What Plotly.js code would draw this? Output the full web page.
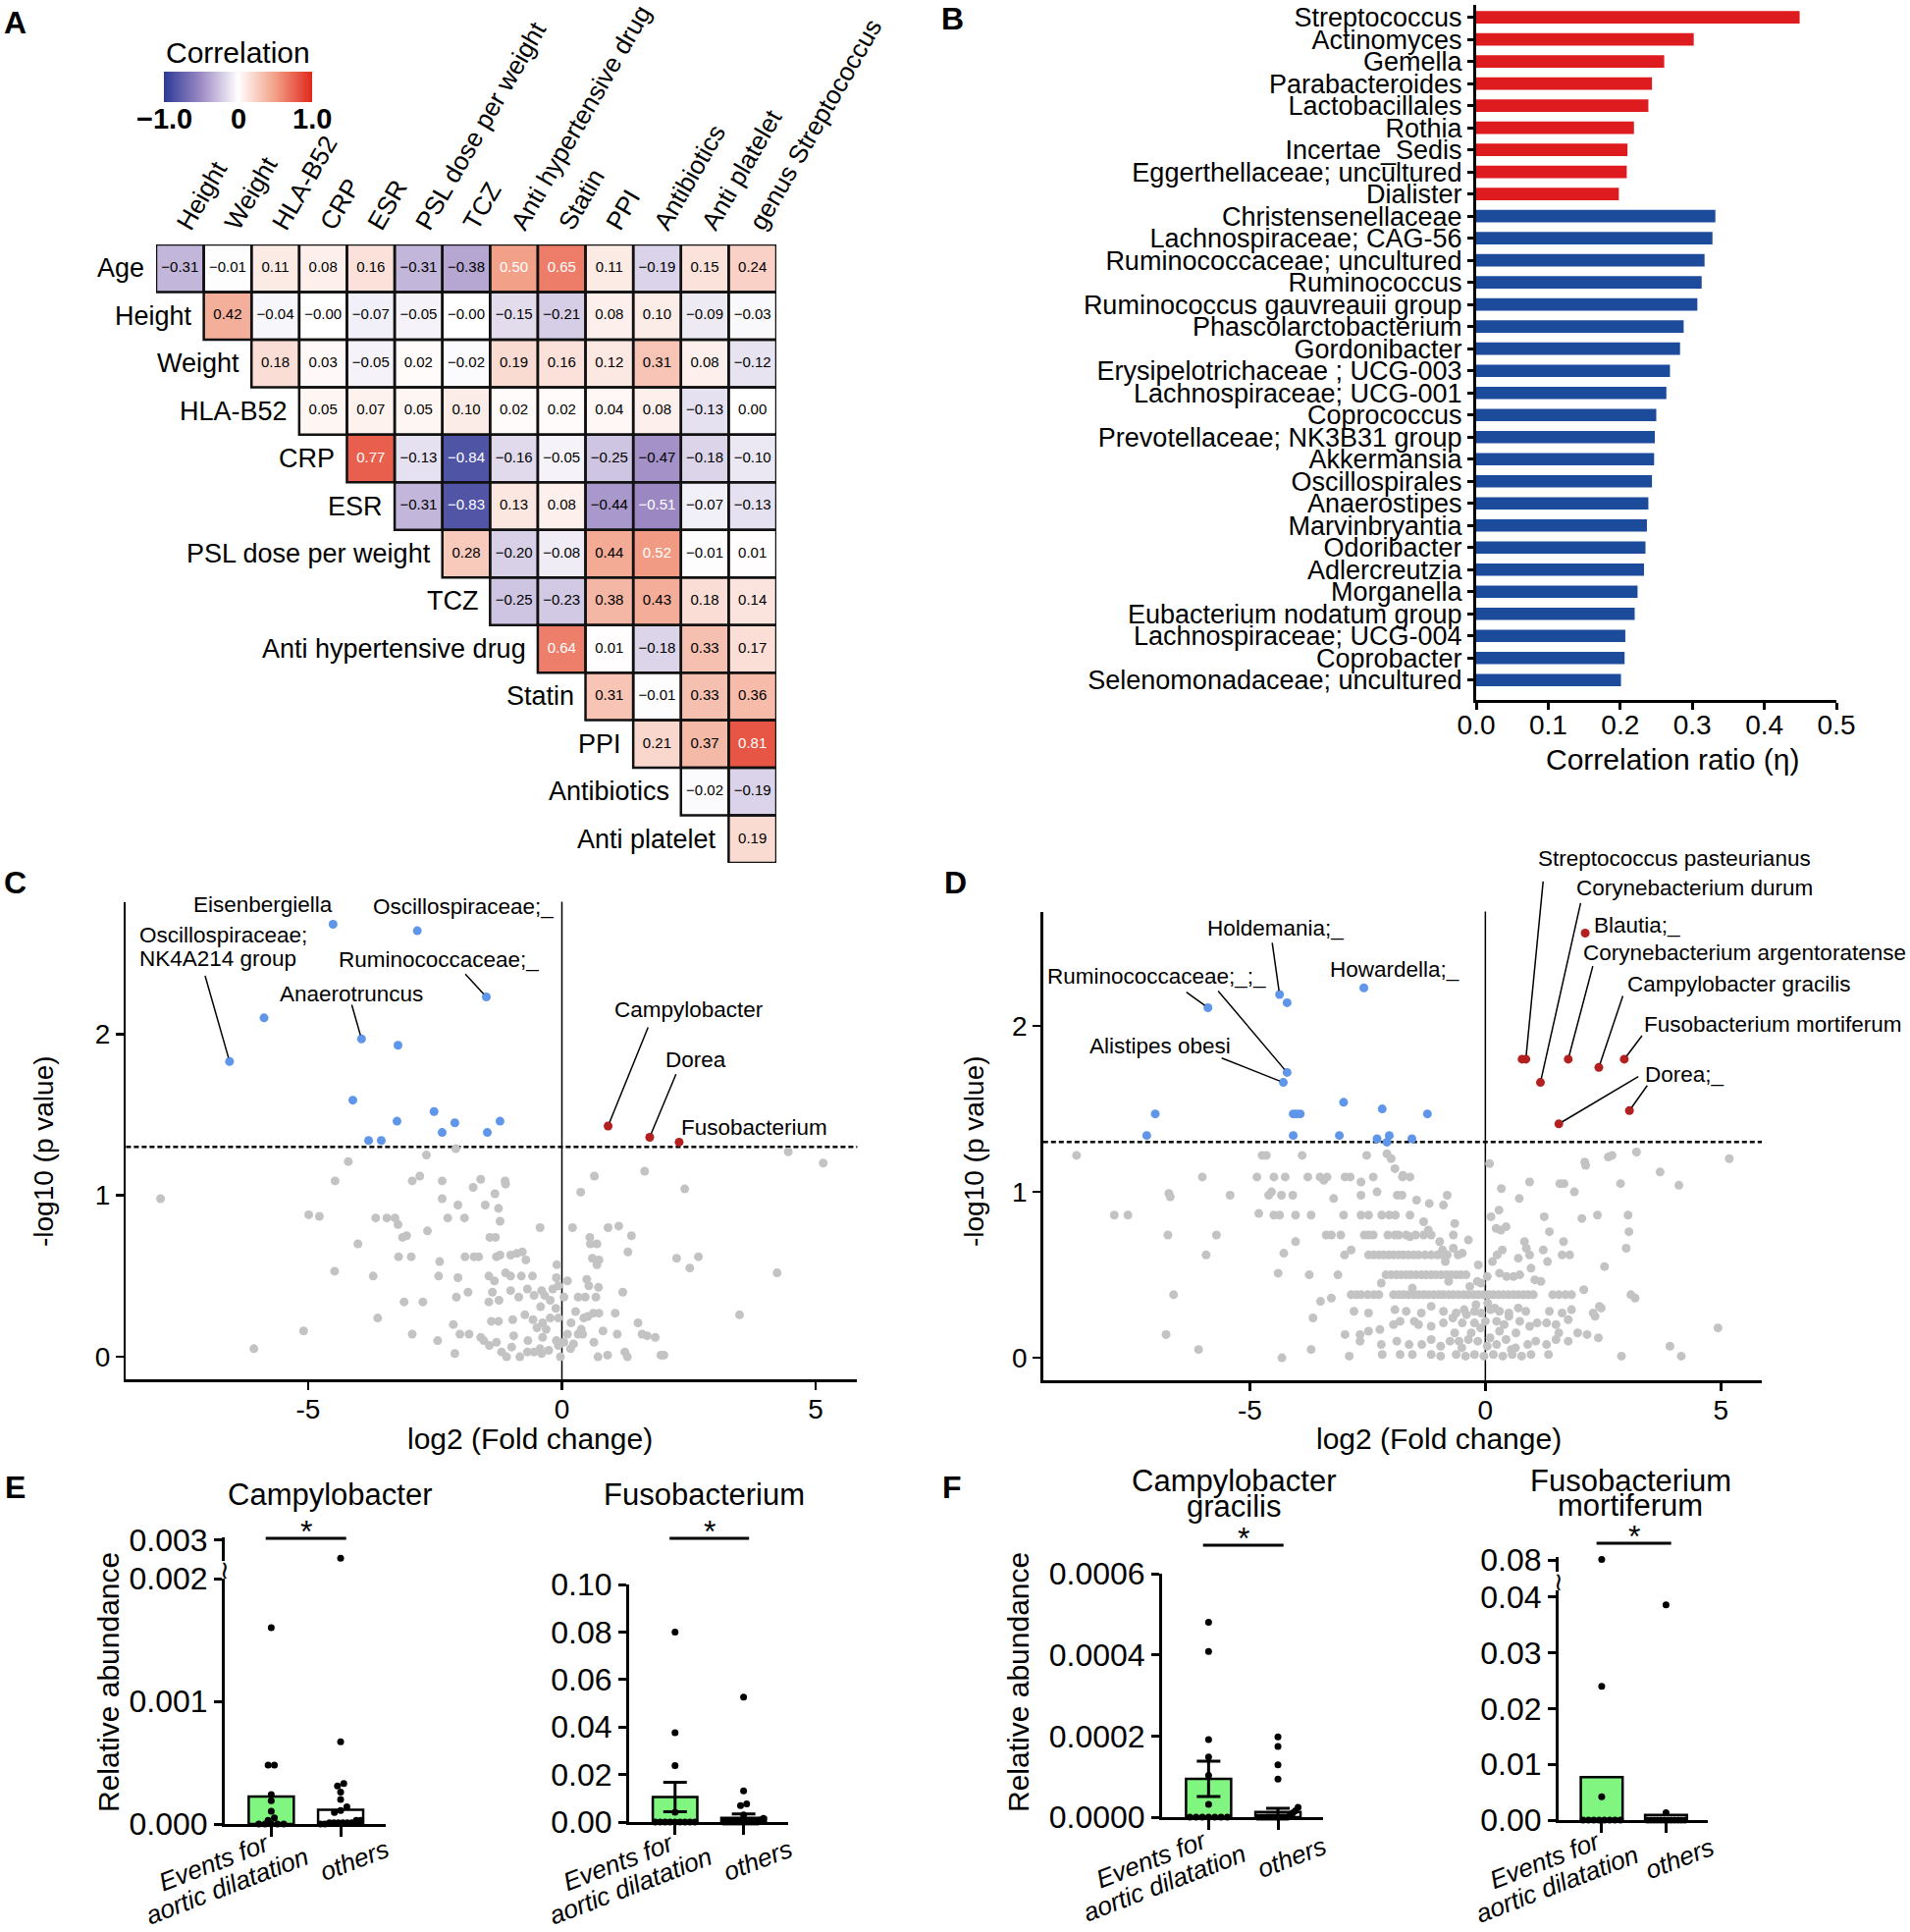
<!DOCTYPE html>
<html><head><meta charset="utf-8">
<script src="https://cdn.plot.ly/plotly-3.0.1.min.js"></script>
<style>html,body{margin:0;padding:0;background:#fff}</style>
</head><body>
<div id="chart" style="width:1946px;height:1968px"></div>
<script>
// ===================== DATA =====================
// Panel A: correlation matrix (upper triangle, row i starts at column i)
const heatRows = ['Age','Height','Weight','HLA-B52','CRP','ESR','PSL dose per weight','TCZ','Anti hypertensive drug','Statin','PPI','Antibiotics','Anti platelet'];
const heatCols = ['Height','Weight','HLA-B52','CRP','ESR','PSL dose per weight','TCZ','Anti hypertensive drug','Statin','PPI','Antibiotics','Anti platelet','genus Streptococcus'];
const corrAge = [-0.31,-0.01,0.11,0.08,0.16,-0.31,-0.38,0.50,0.65,0.11,-0.19,0.15,0.24];
const corrHeight = [0.42,-0.04,-0,-0.07,-0.05,-0,-0.15,-0.21,0.08,0.10,-0.09,-0.03];
const corrWeight = [0.18,0.03,-0.05,0.02,-0.02,0.19,0.16,0.12,0.31,0.08,-0.12];
const corrHLA = [0.05,0.07,0.05,0.10,0.02,0.02,0.04,0.08,-0.13,0.00];
const corrCRP = [0.77,-0.13,-0.84,-0.16,-0.05,-0.25,-0.47,-0.18,-0.10];
const corrESR = [-0.31,-0.83,0.13,0.08,-0.44,-0.51,-0.07,-0.13];
const corrPSL = [0.28,-0.20,-0.08,0.44,0.52,-0.01,0.01];
const corrTCZ = [-0.25,-0.23,0.38,0.43,0.18,0.14];
const corrAntiHT = [0.64,0.01,-0.18,0.33,0.17];
const corrStatin = [0.31,-0.01,0.33,0.36];
const corrPPI = [0.21,0.37,0.81];
const corrAntibiotics = [-0.02,-0.19];
const corrAntiPlatelet = [0.19];
const corrScaleTicks = [-1, 0, 1];
const corrScaleText = ['\u22121.0', '0', '1.0'];

// Panel B: correlation ratio
const bTaxa = ['Streptococcus','Actinomyces','Gemella','Parabacteroides','Lactobacillales','Rothia','Incertae_Sedis','Eggerthellaceae; uncultured','Dialister','Christensenellaceae','Lachnospiraceae; CAG-56','Ruminococcaceae; uncultured','Ruminococcus','Ruminococcus gauvreauii group','Phascolarctobacterium','Gordonibacter','Erysipelotrichaceae ; UCG-003','Lachnospiraceae; UCG-001','Coprococcus','Prevotellaceae; NK3B31 group','Akkermansia','Oscillospirales','Anaerostipes','Marvinbryantia','Odoribacter','Adlercreutzia','Morganella','Eubacterium nodatum group','Lachnospiraceae; UCG-004','Coprobacter','Selenomonadaceae; uncultured'];
const bEta = [0.449,0.302,0.261,0.244,0.239,0.219,0.210,0.209,0.198,0.332,0.328,0.317,0.313,0.307,0.288,0.283,0.269,0.264,0.250,0.248,0.247,0.244,0.239,0.237,0.235,0.233,0.224,0.220,0.207,0.206,0.201];
const bGroup = ['up','up','up','up','up','up','up','up','up','down','down','down','down','down','down','down','down','down','down','down','down','down','down','down','down','down','down','down','down','down','down'];

// Panel C: volcano [log2FC, -log10 p]
const cBlue = [[-4.51,2.68],[-2.85,2.64],[-1.49,2.23],[-5.87,2.10],[-3.95,1.97],[-3.23,1.93],[-6.55,1.83],[-4.12,1.59],[-2.52,1.52],[-3.25,1.46],[-2.11,1.45],[-1.22,1.46],[-2.36,1.39],[-1.47,1.39],[-3.81,1.34],[-3.56,1.34]];
const cRed = [[0.91,1.43],[1.73,1.36],[2.31,1.33]];
const cGrey = [[-2.09,1.29],[-2.67,1.25],[-4.21,1.21],[4.46,1.27],[5.15,1.20],[-4.47,1.09],[-2.95,1.09],[-2.80,1.12],[-2.36,1.09],[-1.60,1.10],[-1.12,1.09],[-1.11,1.07],[-1.75,1.05],[-1.32,1.01],[0.64,1.12],[1.63,1.15],[2.42,1.04],[0.37,1.02],[-7.91,0.98],[-2.36,0.98],[-2.05,0.94],[-1.51,0.94],[-1.25,0.92],[-4.99,0.88],[-4.78,0.87],[-3.67,0.86],[-3.45,0.86],[-3.29,0.86],[-3.23,0.82],[-2.25,0.86],[-1.92,0.86],[-1.22,0.84],[-2.65,0.78],[-0.43,0.80],[0.21,0.80],[0.91,0.80],[1.12,0.81],[1.37,0.75],[-3.14,0.74],[-3.06,0.75],[-1.42,0.74],[-1.31,0.74],[0.55,0.74],[0.56,0.70],[0.69,0.70],[-4.02,0.70],[1.30,0.65],[-3.22,0.62],[-2.97,0.62],[-1.91,0.62],[-1.73,0.62],[-1.64,0.62],[-1.29,0.62],[-1.22,0.63],[-1.01,0.63],[-0.89,0.64],[-0.78,0.65],[-0.71,0.60],[-2.41,0.59],[0.60,0.61],[0.73,0.60],[0.69,0.57],[-0.10,0.57],[2.26,0.61],[2.69,0.62],[2.52,0.55],[4.24,0.52],[-4.48,0.53],[-3.72,0.50],[-2.43,0.50],[-2.05,0.49],[-1.44,0.50],[-1.11,0.52],[-1.33,0.47],[-1.01,0.50],[-0.80,0.50],[-0.58,0.50],[-0.11,0.49],[0.11,0.47],[0.49,0.48],[0.53,0.44],[0.72,0.43],[1.20,0.40],[-1.85,0.40],[-1.37,0.40],[-1.01,0.41],[-0.68,0.42],[-0.40,0.41],[-0.18,0.42],[-0.07,0.44],[-2.08,0.37],[-1.44,0.34],[-1.24,0.35],[-0.85,0.37],[-0.55,0.38],[-0.34,0.38],[-0.23,0.35],[0.04,0.37],[0.32,0.37],[0.46,0.37],[0.67,0.37],[-3.11,0.34],[-2.74,0.34],[-0.42,0.31],[-0.12,0.30],[0.27,0.28],[0.62,0.27],[0.73,0.27],[1.05,0.27],[0.51,0.25],[3.50,0.26],[-3.63,0.24],[-1.39,0.22],[-1.25,0.22],[-0.97,0.23],[-0.73,0.26],[-0.57,0.23],[-0.38,0.21],[-0.23,0.24],[-0.07,0.24],[0.18,0.21],[0.43,0.24],[0.38,0.17],[1.50,0.21],[-2.14,0.20],[-0.49,0.18],[-0.31,0.17],[0.11,0.14],[0.32,0.14],[0.41,0.14],[0.81,0.16],[1.09,0.14],[1.58,0.14],[1.68,0.13],[1.84,0.12],[-5.09,0.16],[-2.95,0.14],[-2.01,0.14],[-1.83,0.14],[-1.60,0.12],[-1.54,0.10],[-1.29,0.09],[-0.95,0.13],[-0.67,0.10],[-0.38,0.12],[-0.11,0.10],[0.04,0.09],[0.23,0.08],[0.63,0.09],[-2.45,0.10],[-6.07,0.05],[-2.11,0.02],[-1.43,0.07],[-1.19,0.03],[-0.99,0.06],[-0.83,0.00],[-0.55,0.03],[-0.43,0.05],[-0.26,0.04],[-0.03,0.00],[0.17,0.05],[0.71,0.00],[0.90,0.01],[1.24,0.03],[1.29,0.00],[1.95,0.01],[2.01,0.01],[-1.09,0.00],[-0.68,0.03],[-0.40,0.02],[-0.07,0.07]];

// Panel D: volcano [log2FC, -log10 p]
const dBlue = [[-5.89,2.11],[-4.37,2.19],[-4.21,2.14],[-2.58,2.23],[-4.21,1.72],[-4.29,1.66],[-7.01,1.47],[-7.19,1.34],[-4.08,1.47],[-4.01,1.47],[-3.93,1.47],[-4.08,1.34],[-3.01,1.54],[-3.10,1.34],[-2.19,1.50],[-2.30,1.32],[-2.04,1.34],[-2.09,1.30],[-1.56,1.32],[-1.23,1.47]];
const dRed = [[0.78,1.80],[0.86,1.80],[2.12,2.56],[1.76,1.80],[2.41,1.75],[2.95,1.80],[1.17,1.66],[1.56,1.41],[3.06,1.49]];
const dGrey = [[-8.68,1.22],[-4.74,1.22],[-4.65,1.22],[-3.89,1.22],[-2.52,1.22],[-2.09,1.23],[-2.00,1.20],[0.09,1.17],[2.11,1.18],[2.13,1.16],[2.61,1.21],[2.69,1.22],[3.21,1.24],[5.18,1.20],[-1.92,1.14],[-1.75,1.10],[-1.60,1.09],
[-6.01,1.09],[-4.85,1.09],[-4.49,1.09],[-4.25,1.09],[-3.77,1.09],[-3.51,1.09],[-3.43,1.07],[-3.36,1.09],[-2.98,1.09],[-2.87,1.09],[-2.64,1.06],[-2.38,1.09],[-1.76,1.09],[3.71,1.12],[4.11,1.04],[2.87,1.05],[1.58,1.05],[1.67,1.05],[0.94,1.06],[0.34,1.02],[1.89,1.00],
[-6.72,0.99],[-6.69,0.97],[-5.42,0.98],[-4.60,0.98],[-4.54,1.00],[-4.33,0.98],[-4.09,0.98],[-3.22,0.96],[-2.64,0.98],[-2.30,1.00],[-1.87,0.98],[-1.77,0.98],[-1.46,0.95],[-1.19,0.93],[-0.81,0.98],[0.72,0.96],[2.05,0.84],
[-7.88,0.86],[-7.59,0.86],[-4.81,0.87],[-4.49,0.86],[-4.37,0.86],[-4.03,0.86],[-3.70,0.86],[-3.01,0.86],[-2.64,0.86],[-2.48,0.86],[-2.20,0.86],[-2.04,0.86],[-1.91,0.86],[-1.60,0.86],[-1.31,0.82],[-0.89,0.92],[0.12,0.85],[0.29,0.89],[1.25,0.85],[2.38,0.86],[3.03,0.86],
[-6.74,0.74],[-5.71,0.74],[-4.03,0.70],[-3.38,0.74],[-3.27,0.74],[-3.07,0.74],[-2.57,0.74],[-2.48,0.74],[-2.38,0.74],[-2.07,0.74],[-1.92,0.74],[-1.84,0.74],[-1.68,0.74],[-1.60,0.73],[-1.48,0.74],[-1.31,0.74],[-1.21,0.77],[-1.15,0.74],[-0.65,0.81],[-0.68,0.74],[0.23,0.78],[0.33,0.77],[0.44,0.79],[1.36,0.76],[3.05,0.76],[-0.97,0.70],[-0.36,0.71],[0.83,0.70],[1.66,0.70],
[-5.93,0.62],[-4.28,0.63],[-2.99,0.62],[-2.85,0.65],[-2.48,0.62],[-2.37,0.62],[-2.26,0.62],[-2.16,0.62],[-2.05,0.62],[-1.95,0.62],[-1.84,0.62],[-1.74,0.62],[-1.63,0.62],[-1.52,0.62],[-1.42,0.62],[-1.28,0.62],[-1.15,0.62],[-1.02,0.62],[-0.91,0.62],[-0.81,0.62],[-0.68,0.66],[-0.58,0.62],[0.25,0.62],[0.36,0.65],[0.87,0.66],[0.94,0.62],[1.23,0.65],[1.63,0.62],[1.79,0.62],[2.99,0.66],[1.32,0.58],[0.70,0.60],[-0.91,0.65],[-0.49,0.63],[-0.85,0.58],[0.15,0.58],[-0.15,0.56],
[-4.40,0.51],[-3.74,0.50],[-3.13,0.50],[-2.11,0.50],[-2.00,0.50],[-1.89,0.50],[-1.79,0.50],[-1.68,0.50],[-1.58,0.50],[-1.47,0.50],[-1.36,0.50],[-1.26,0.50],[-1.15,0.50],[-1.05,0.50],[-0.94,0.50],[-0.83,0.50],[-0.73,0.50],[-0.62,0.50],[-0.52,0.50],[-0.41,0.50],[-0.17,0.46],[0.04,0.49],[0.30,0.51],[0.45,0.49],[0.60,0.49],[0.73,0.50],[0.97,0.54],[1.05,0.47],[1.18,0.46],[2.53,0.55],[-2.21,0.45],[-1.55,0.42],[-0.78,0.46],[-0.33,0.43],[-0.09,0.45],
[-6.62,0.38],[-3.50,0.34],[-3.27,0.36],[-2.85,0.38],[-2.74,0.38],[-2.64,0.38],[-2.50,0.38],[-2.37,0.38],[-2.26,0.38],[-1.95,0.38],[-1.84,0.38],[-1.74,0.38],[-1.63,0.38],[-1.52,0.38],[-1.42,0.38],[-1.31,0.38],[-1.21,0.38],[-1.10,0.38],[-0.99,0.38],[-0.89,0.38],[-0.78,0.38],[-0.68,0.38],[-0.57,0.38],[-0.46,0.38],[-0.36,0.38],[-0.25,0.38],[-0.15,0.38],[-0.04,0.38],[0.07,0.38],[0.17,0.38],[0.28,0.38],[0.38,0.38],[0.49,0.38],[0.60,0.38],[0.70,0.38],[0.81,0.38],[0.91,0.38],[1.02,0.38],[1.43,0.38],[1.56,0.38],[1.70,0.38],[1.83,0.38],[2.09,0.41],[3.09,0.38],[3.18,0.36],
[-3.66,0.24],[-2.79,0.28],[-2.48,0.27],[-1.92,0.29],[-1.68,0.28],[-1.36,0.27],[-1.15,0.31],[-0.89,0.28],[-0.62,0.27],[-0.45,0.29],[-0.23,0.28],[-0.09,0.27],[0.11,0.29],[0.30,0.28],[0.50,0.27],[0.70,0.30],[0.86,0.28],[1.36,0.28],[1.63,0.27],[1.83,0.29],[2.29,0.27],[2.42,0.31],[2.46,0.30],[2.33,0.25],
[-2.98,0.14],[-2.66,0.14],[-2.48,0.16],[-2.24,0.17],[-1.95,0.20],[-1.81,0.22],[-1.51,0.22],[-1.42,0.20],[-1.15,0.19],[-0.89,0.21],[-0.69,0.24],[-0.49,0.21],[-0.23,0.21],[0.00,0.22],[0.24,0.22],[0.50,0.25],[0.73,0.22],[0.94,0.19],[1.10,0.21],[1.30,0.21],[1.50,0.20],[1.76,0.23],[1.96,0.15],[2.16,0.14],[2.40,0.12],[1.56,0.15],
[-6.78,0.14],[-3.70,0.05],[-2.66,0.10],[-2.21,0.08],[-1.88,0.10],[-1.62,0.08],[-1.35,0.08],[-1.15,0.11],[-0.95,0.07],[-0.75,0.10],[-0.56,0.10],[-0.36,0.11],[-0.16,0.10],[0.04,0.07],[0.24,0.08],[0.44,0.11],[0.64,0.06],[0.90,0.08],[1.07,0.10],[1.30,0.08],[1.50,0.11],[1.76,0.10],[4.94,0.18],[3.92,0.07],
[-6.09,0.05],[-4.32,0.00],[-2.89,0.01],[-2.19,0.02],[-1.81,0.02],[-1.55,0.02],[-1.15,0.02],[-0.95,0.01],[-0.62,0.02],[-0.42,0.01],[-0.23,0.02],[-0.03,0.01],[0.17,0.02],[0.37,0.01],[0.57,0.02],[0.77,0.01],[0.97,0.02],[1.34,0.02],[2.89,0.01],[4.16,0.01],
[-0.30,0.15],[-0.10,0.18],[0.10,0.12],[0.30,0.16],[-0.50,0.06],[0.55,0.05],[-0.20,0.32],[0.05,0.33],[0.20,0.30],[-0.65,0.15],[0.65,0.15],[-0.40,0.26],[0.40,0.20]];

// Panels E/F: relative abundance (group means, SEM, individual samples)
const groupNames = ['Events for aortic dilatation','others'];
const e1Mean = [0.000224, 0.000116];
const e1Events = [0.0016,0.00048,0.00048,0.00024,0.00019,0.000105,0.00005,0.00003,0,0,0,0,0];
const e1Others = [0.00265,0.00067,0.00033,0.00031,0.00026,0.0002,0.00014,0.00011,0.000095,0.00003,0.00003,0.00001,0.00001,0.00001,0.00001,0.00001,0.00001,0,0];
const e2Mean = [0.0105, 0.0018];
const e2Sem = [0.0062, 0.0016];
const e2Events = [0.080,0.0376,0.0238,0.0041,0,0,0,0,0,0,0,0,0];
const e2Others = [0.0526,0.0131,0.0076,0.0069,0.003,0.0015,0.0008,0,0,0,0,0,0,0,0,0,0,0,0];
const f1Mean = [0.0000945, 0.0000129];
const f1Sem = [0.0000435, 0.0000089];
const f1Events = [0.00048,0.000408,0.000191,0.000148,0.000103,0.0000315,0,0,0,0,0,0,0];
const f1Others = [0.000198,0.000174,0.000129,0.0000937,0.0000242,0.000016,0.00001,0.000005,0,0,0,0,0,0,0,0,0,0,0,0];
const f2Mean = [0.0077, 0.00094];
const f2Events = [0.0802,0.024,0.0042,0,0,0,0,0,0,0,0];
const f2Others = [0.0386,0.0013,0,0,0,0,0,0,0,0,0,0,0,0];

// ===================== HELPERS =====================
const F = '"Liberation Sans", Arial, Helvetica, sans-serif';
const W = 1946, H = 1968;
const px = v => v / W;
const py = v => 1 - v / H;
const hd = (a, b) => [px(a), px(b)];
const vd = (top, bottom) => [py(bottom), py(top)];
const BLACK = '#000';

const traces = [], shapes = [], annotations = [];
const layout = {
  width: W, height: H, autosize: false,
  margin: {l:0, r:0, t:0, b:0, pad:0},
  paper_bgcolor: '#fff', plot_bgcolor: 'rgba(0,0,0,0)',
  showlegend: false,
  font: {family: F, color: BLACK, size: 26},
  shapes, annotations
};
function ax(extra) {
  return Object.assign({
    showgrid:false, zeroline:false, showline:true, linecolor:BLACK, linewidth:3,
    ticks:'outside', tickcolor:BLACK, tickwidth:3, ticklen:8,
    tickfont:{family:F, size:28, color:BLACK}, fixedrange:true, automargin:false
  }, extra);
}
function txt(text, x, y, size, extra) {
  annotations.push(Object.assign({text, x, y, xref:'paper', yref:'paper', showarrow:false,
    xanchor:'center', yanchor:'middle', font:{family:F, size, color:BLACK}}, extra||{}));
}

// ===================== PANEL A =====================
const corrRows = [corrAge,corrHeight,corrWeight,corrHLA,corrCRP,corrESR,corrPSL,corrTCZ,corrAntiHT,corrStatin,corrPPI,corrAntibiotics,corrAntiPlatelet];
const nH = heatCols.length;
const idxH = [...Array(nH).keys()];
const zA = [], tX = [], tY = [], tS = [], tC = [];
const fmt = v => ((v < 0 || Object.is(v, -0)) ? '\u2212' : '') + Math.abs(v).toFixed(2);
corrRows.forEach((row, i) => {
  const zr = [];
  for (let j = 0; j < nH; j++) {
    if (j >= i) {
      const v = row[j - i];
      zr.push(v);
      tX.push(j); tY.push(i); tS.push(fmt(v));
      tC.push(Math.abs(v) >= 0.5 ? '#fff' : '#000');
      shapes.push({type:'rect', xref:'x', yref:'y', x0:j-0.5, x1:j+0.5, y0:i-0.5, y1:i+0.5,
        line:{color:'#111', width:2.5}, layer:'above'});
    } else zr.push(null);
  }
  zA.push(zr);
  annotations.push({text: heatRows[i], x: i - 0.5, y: i, xref:'x', yref:'y', xanchor:'right',
    yanchor:'middle', xshift:-10, showarrow:false, font:{family:F, size:27, color:BLACK}});
});
// colour-scale legend geometry (page pixels)
const CB = {left:167, right:318, top:73, thick:31};
traces.push({
  type:'heatmap', z:zA, x:idxH, y:idxH, xaxis:'x', yaxis:'y', zmin:-1, zmax:1,
  colorscale:[[0,'#2b3a96'],[0.25,'#9d8ac4'],[0.5,'#ffffff'],[0.75,'#f2a088'],[1,'#e0281c']],
  hoverinfo:'skip',
  colorbar:{orientation:'h', x:px((CB.left+CB.right)/2), xanchor:'center', xref:'paper', y:py(CB.top), yanchor:'top', yref:'paper',
    len:CB.right-CB.left, lenmode:'pixels', thickness:CB.thick, thicknessmode:'pixels', outlinewidth:0,
    tickvals:corrScaleTicks, showticklabels:false, ticks:'', xpad:0, ypad:0}
});
// colour-scale title and tick labels placed along the bar
txt('Correlation', px((CB.left+CB.right)/2), py(53), 30);
corrScaleTicks.forEach((t, k) => {
  const xpx = CB.left + (t + 1) / 2 * (CB.right - CB.left);
  txt('<b>' + corrScaleText[k] + '</b>', px(xpx), py(121), 29);
});
traces.push({type:'scatter', mode:'text', x:tX, y:tY, text:tS, xaxis:'x', yaxis:'y',
  textfont:{family:F, size:15, color:tC}, hoverinfo:'skip', cliponaxis:false});
layout.xaxis = {domain:hd(159,791), range:[-0.5,12.5], side:'top', tickmode:'array', tickvals:idxH, ticktext:heatCols,
  tickangle:-60, ticks:'', showline:false, showgrid:false, zeroline:false, anchor:'y', fixedrange:true, automargin:false,
  tickfont:{family:F, size:26, color:BLACK}};
layout.yaxis = {domain:vd(249,879), range:[12.5,-0.5], showticklabels:false, ticks:'', showline:false,
  showgrid:false, zeroline:false, anchor:'x', fixedrange:true, automargin:false};

// ===================== PANEL B =====================
const idxB = bTaxa.map((_, i) => i);
traces.push({type:'bar', orientation:'h', x:bEta, y:idxB, xaxis:'x2', yaxis:'y2', width:0.56,
  marker:{color:bGroup.map(g => g === 'up' ? '#de1b1e' : '#1c4b9b'), line:{width:0}}, hoverinfo:'skip'});
layout.xaxis2 = ax({domain:hd(1504,1871), range:[0,0.5], anchor:'y2', tickvals:[0,0.1,0.2,0.3,0.4,0.5],
  ticktext:['0.0','0.1','0.2','0.3','0.4','0.5'], ticklen:7, ticklabelstandoff:-9});
layout.yaxis2 = ax({domain:vd(5,713), range:[30.9,-0.56], anchor:'x2', tickvals:idxB, ticktext:bTaxa,
  ticklen:6, tickfont:{family:F, size:27, color:BLACK}});
txt('Correlation ratio (\u03b7)', px(1704), py(773), 30);

// ===================== PANELS C & D =====================
const THR = -Math.log10(0.05);
function volcano(xa, ya, grey, blue, red) {
  const mk = (pts, color) => ({type:'scatter', mode:'markers', x:pts.map(p=>p[0]), y:pts.map(p=>p[1]),
    xaxis:xa, yaxis:ya, marker:{size:9, color, line:{width:0}}, hoverinfo:'skip', cliponaxis:false});
  traces.push(mk(grey,'#c3c3c3'), mk(blue,'#5f96ea'), mk(red,'#b3201f'));
  shapes.push({type:'line', xref:xa+' domain', x0:0, x1:1, yref:ya, y0:THR, y1:THR,
    line:{color:BLACK, width:2.5, dash:'5px,3px'}, layer:'below'});
  shapes.push({type:'line', xref:xa, x0:0, x1:0, yref:ya+' domain', y0:0, y1:1,
    line:{color:BLACK, width:1.5}, layer:'below'});
}
volcano('x3','y3', cGrey, cBlue, cRed);
volcano('x4','y4', dGrey, dBlue, dRed);
const vx = {tickvals:[-5,0,5], ticktext:['-5','0','5'], linewidth:2.5, tickwidth:2.5, ticklabelstandoff:-5};
const vy = {tickvals:[0,1,2], ticktext:['0','1','2'], linewidth:2.5, tickwidth:2.5};
layout.xaxis3 = ax(Object.assign({domain:hd(128.4,873.4), range:[-8.59,5.82], anchor:'y3'}, vx));
layout.yaxis3 = ax(Object.assign({domain:vd(918.5,1405.4), range:[-0.142,2.82], anchor:'x3'}, vy));
layout.xaxis4 = ax(Object.assign({domain:hd(1062.8,1795), range:[-9.39,5.87], anchor:'y4'}, vx));
layout.yaxis4 = ax(Object.assign({domain:vd(928.5,1406.4), range:[-0.138,2.69], anchor:'x4'}, vy));

function label(xa, ya, text, x, y, anchor) {
  annotations.push({text, x, y, xref:xa, yref:ya, showarrow:false, xanchor:anchor||'center', yanchor:'middle',
    align:'left', font:{family:F, size:22.5, color:BLACK}});
}
function connect(xa, ya, tail, pt) {
  annotations.push({text:'', x:pt[0], y:pt[1], ax:tail[0], ay:tail[1], xref:xa, yref:ya, axref:xa, ayref:ya,
    showarrow:true, arrowhead:0, arrowwidth:1.5, arrowcolor:BLACK, standoff:4});
}
// C labels
label('x3','y3','Eisenbergiella', -5.89, 2.80);
label('x3','y3','Oscillospiraceae;_', -1.95, 2.79);
label('x3','y3','Oscillospiraceae;', -8.37, 2.615, 'left');
label('x3','y3','NK4A214 group', -8.37, 2.47, 'left');
label('x3','y3','Ruminococcaceae;_', -2.42, 2.46);
label('x3','y3','Anaerotruncus', -4.15, 2.25);
label('x3','y3','Campylobacter', 2.51, 2.15);
label('x3','y3','Dorea', 2.64, 1.84);
label('x3','y3','Fusobacterium', 3.80, 1.42);
connect('x3','y3',[-7.04,2.37], cBlue[6]);
connect('x3','y3',[-1.93,2.38], cBlue[2]);
connect('x3','y3',[-4.15,2.19], cBlue[4]);
connect('x3','y3',[1.71,2.05], cRed[0]);
connect('x3','y3',[2.26,1.76], cRed[1]);
// D labels (two sit above the plotting area, so they are placed on the page)
txt('Streptococcus pasteurianus', px(1706), py(875), 22.5);
txt('Corynebacterium durum', px(1726), py(904), 22.5);
label('x4','y4','Blautia;_', 2.26, 2.61, 'left');
label('x4','y4','Corynebacterium argentoratense', 2.03, 2.44, 'left');
label('x4','y4','Campylobacter gracilis', 2.98, 2.25, 'left');
label('x4','y4','Fusobacterium mortiferum', 3.32, 2.01, 'left');
label('x4','y4','Dorea;_', 3.35, 1.71, 'left');
label('x4','y4','Holdemania;_', -4.46, 2.59);
label('x4','y4','Howardella;_', -1.92, 2.34);
label('x4','y4','Ruminococcaceae;_;_', -6.98, 2.30);
label('x4','y4','Alistipes obesi', -6.91, 1.88);
connect('x4','y4',[1.23,2.88], dRed[1]);
connect('x4','y4',[2.03,2.75], dRed[6]);
connect('x4','y4',[2.29,2.37], dRed[3]);
connect('x4','y4',[2.93,2.19], dRed[4]);
connect('x4','y4',[3.35,1.95], dRed[5]);
connect('x4','y4',[3.28,1.70], dRed[7]);
connect('x4','y4',[3.46,1.65], dRed[8]);
connect('x4','y4',[-4.53,2.51], dBlue[1]);
connect('x4','y4',[-6.38,2.21], dBlue[0]);
connect('x4','y4',[-5.70,2.22], dBlue[4]);
connect('x4','y4',[-5.63,1.81], dBlue[5]);

txt('-log10 (p value)', px(44), py(1173), 28, {textangle:-90});
txt('-log10 (p value)', px(992), py(1173), 28, {textangle:-90});
txt('log2 (Fold change)', px(540), py(1465), 30);
txt('log2 (Fold change)', px(1466), py(1465), 30);

// ===================== PANELS E & F =====================
function swarm(vals, tol) {
  const idx = vals.map((v,i)=>i).sort((a,b)=>vals[a]-vals[b]);
  const off = new Array(vals.length).fill(0);
  let g = [idx[0]];
  const flush = () => { const n = g.length; const st = n > 1 ? Math.min(0.09, 0.58/(n-1)) : 0;
    g.forEach((k,m) => { off[k] = (m - (n-1)/2) * st; }); };
  for (let t = 1; t < idx.length; t++) {
    if (vals[idx[t]] - vals[idx[t-1]] < tol) g.push(idx[t]); else { flush(); g = [idx[t]]; }
  }
  flush();
  return off;
}
function barPanel(cfg) {
  const {xa, ya, yaUp, mean, sem, groups, xdom, ydom, yrange, tickvals, ticktext, upDom, upRange, upTick, upText, floorY} = cfg;
  const bar = {type:'bar', x:[0,1], y:mean, xaxis:xa, yaxis:ya, width:0.65, hoverinfo:'skip', cliponaxis:false,
    marker:{color:['#80f580','#ffffff'], line:{color:BLACK, width:2.5}}};
  if (sem) bar.error_y = {type:'data', array:sem, visible:true, color:BLACK, thickness:3, width:12};
  traces.push(bar);
  const tol = yrange[1] * 0.015;
  groups.forEach((vals, gi) => {
    const off = swarm(vals, tol);
    const lo = {x:[], y:[]}, hi = {x:[], y:[]};
    vals.forEach((v, k) => { const tgt = (v > yrange[1] && yaUp) ? hi : lo; tgt.x.push(gi + off[k]); tgt.y.push(v); });
    traces.push({type:'scatter', mode:'markers', x:lo.x, y:lo.y, xaxis:xa, yaxis:ya, cliponaxis:false,
      marker:{size:7, color:BLACK}, hoverinfo:'skip'});
    if (hi.x.length) traces.push({type:'scatter', mode:'markers', x:hi.x, y:hi.y, xaxis:xa, yaxis:yaUp, cliponaxis:false,
      marker:{size:7, color:BLACK}, hoverinfo:'skip'});
  });
  const xn = 'xaxis' + xa.slice(1), yn = 'yaxis' + ya.slice(1);
  layout[xn] = ax({domain:hd(xdom[0], xdom[1]), range:[-0.67,1.65], anchor:ya, tickvals:[0,1], ticktext:['',''],
    showticklabels:false, ticklen:10});
  layout[yn] = ax({domain:vd(ydom[0], ydom[1]), range:yrange, anchor:xa, tickvals, ticktext,
    tickfont:{family:F, size:32, color:BLACK}});
  if (yaUp) {
    layout['yaxis' + yaUp.slice(1)] = ax({domain:vd(upDom[0], upDom[1]), range:upRange, anchor:xa, tickvals:[upTick], ticktext:[upText],
      tickfont:{family:F, size:32, color:BLACK}});
    annotations.push({text:'\u2240', x:px(xdom[0]), y:py((upDom[1] + ydom[0]) / 2), xref:'paper', yref:'paper', showarrow:false,
      xanchor:'center', yanchor:'middle', font:{family:'DejaVu Sans, sans-serif', size:26, color:BLACK}});
  }
  // significance bar and asterisk
  shapes.push({type:'line', xref:xa, x0:-0.08, x1:1.08, yref:'paper', y0:py(cfg.sigY), y1:py(cfg.sigY), line:{color:BLACK, width:3}});
  annotations.push({text:'*', x:0.5, y:py(cfg.sigY - 7), xref:xa, yref:'paper', showarrow:false, xanchor:'center', yanchor:'middle',
    font:{family:F, size:32, color:BLACK}});
  // category labels (rotated)
  const lab = (t, gi, dx, dy) => annotations.push({text:t, x:gi, xshift:dx, y:py(floorY + dy), xref:xa, yref:'paper',
    showarrow:false, xanchor:'center', yanchor:'middle', textangle:-21,
    font:{family:F, size:26, color:BLACK, style:'italic'}});
  const parts = groupNames[0].split(' ');
  lab(parts.slice(0,2).join(' '), 0, -58, 41);
  lab(parts.slice(2).join(' '), 0, -45, 65);
  lab(groupNames[1], 1, 14, 39);
}
barPanel({xa:'x5', ya:'y5', yaUp:'y9', mean:e1Mean, sem:null, groups:[e1Events, e1Others],
  xdom:[229,393], ydom:[1608,1858], yrange:[0,0.002], tickvals:[0,0.001,0.002], ticktext:['0.000','0.001','0.002'],
  upDom:[1566,1590], upRange:[0.0026,0.00305], upTick:0.003, upText:'0.003', floorY:1856, sigY:1567});
barPanel({xa:'x6', ya:'y6', mean:e2Mean, sem:e2Sem, groups:[e2Events, e2Others],
  xdom:[641,803], ydom:[1614,1856], yrange:[0,0.1], tickvals:[0,0.02,0.04,0.06,0.08,0.1],
  ticktext:['0.00','0.02','0.04','0.06','0.08','0.10'], floorY:1856, sigY:1567});
barPanel({xa:'x7', ya:'y7', mean:f1Mean, sem:f1Sem, groups:[f1Events, f1Others],
  xdom:[1184,1348], ydom:[1603,1851], yrange:[0,0.0006], tickvals:[0,0.0002,0.0004,0.0006],
  ticktext:['0.0000','0.0002','0.0004','0.0006'], floorY:1853, sigY:1574});
barPanel({xa:'x8', ya:'y8', yaUp:'y10', mean:f2Mean, sem:null, groups:[f2Events, f2Others],
  xdom:[1588,1740], ydom:[1620,1854], yrange:[0,0.0412], tickvals:[0,0.01,0.02,0.03,0.04],
  ticktext:['0.00','0.01','0.02','0.03','0.04'], upDom:[1586,1601], upRange:[0.076,0.081], upTick:0.08, upText:'0.08',
  floorY:1854, sigY:1572});

txt('Campylobacter', px(336), py(1522), 31);
txt('Fusobacterium', px(717), py(1522), 31);
txt('Campylobacter', px(1257), py(1508), 31);
txt('gracilis', px(1257), py(1534), 31);
txt('Fusobacterium', px(1661), py(1508), 31);
txt('mortiferum', px(1661), py(1533), 31);
txt('Relative abundance', px(110), py(1714), 30, {textangle:-90});
txt('Relative abundance', px(1037), py(1714), 30, {textangle:-90});

// panel letters
[['A',15,23],['B',970,19],['C',15,899],['D',973,899],['E',15,1515],['F',970,1515]].forEach(([t,x,y]) =>
  txt('<b>' + t + '</b>', px(x), py(y), 32));

Plotly.newPlot('chart', traces, layout, {staticPlot:true, displayModeBar:false});
</script>
</body></html>
